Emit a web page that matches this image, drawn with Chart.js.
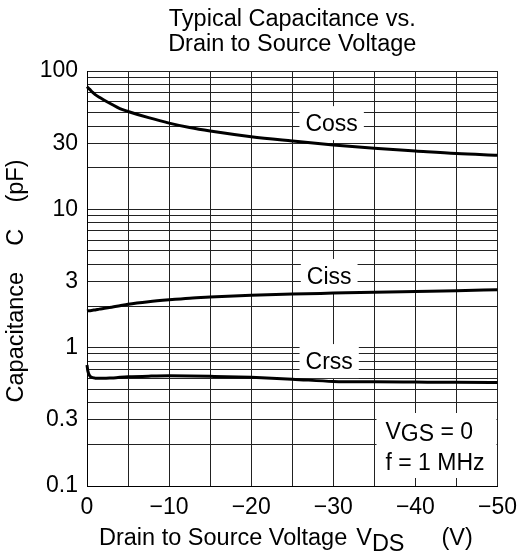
<!DOCTYPE html>
<html>
<head>
<meta charset="utf-8">
<title>Typical Capacitance vs. Drain to Source Voltage</title>
<script src="https://cdn.jsdelivr.net/npm/chart.js@4.4.1/dist/chart.umd.min.js"></script>
<style>
  html, body { margin: 0; padding: 0; background: #fff; }
  #wrap { width: 525px; height: 558px; }
</style>
</head>
<body>
<div id="wrap"><canvas id="grafico" width="525" height="558"></canvas></div>
<script>
// Drain to source voltage (V) - shared sampling for the three curves
var vds  = [0, -0.1, -0.3, -0.7, -1, -1.5, -2, -3, -4, -5, -7.5, -10, -12.5, -15, -20, -25, -30, -35, -40, -45, -50];
// Capacitances (pF)
var coss = [77, 76, 74, 70, 67.5, 64.5, 62, 57.5, 53.5, 51, 46, 42, 39, 36.8, 33.5, 31.2, 29.2, 27.6, 26.4, 25.3, 24.6];
var ciss = [1.84, 1.845, 1.85, 1.865, 1.875, 1.9, 1.92, 1.96, 2.01, 2.06, 2.15, 2.22, 2.28, 2.32, 2.39, 2.44, 2.48, 2.52, 2.55, 2.58, 2.62];
var crss = [0.75, 0.68, 0.63, 0.607, 0.602, 0.6, 0.6, 0.604, 0.61, 0.615, 0.622, 0.626, 0.625, 0.621, 0.61, 0.592, 0.57, 0.566, 0.564, 0.562, 0.561];

// Axis ticks
var xTicks  = [0, -5, -10, -15, -20, -25, -30, -35, -40, -45, -50];
var xLabels = [0, -10, -20, -30, -40, -50];
var yTicks  = [0.1, 0.2, 0.3, 0.4, 0.5, 0.6, 0.7, 0.8, 0.9,
               1, 2, 3, 4, 5, 6, 7, 8, 9,
               10, 20, 30, 40, 50, 60, 70, 80, 90, 100];
var yLabels = [0.1, 0.3, 1, 3, 10, 30, 100];

// Curve names, placed in data units
var curveNames = ['Coss', 'Ciss', 'Crss'];
var nameVds    = [-29.8, -29.5, -29.5];
var nameCap    = [42, 3.3, 0.8];

(function() {
    'use strict';

    var FUENTE = "'Liberation Sans', Arial, Helvetica, sans-serif";
    var TAM = 23;
    var TAM_TIT = 23.5;
    Chart.defaults.font.family = FUENTE;
    Chart.defaults.color = '#000';

    function serie(valores) {
        return vds.map(function(v, i) { return { x: v, y: valores[i] }; });
    }

    function dataset(nombre, valores) {
        return {
            label: nombre,
            data: serie(valores),
            borderColor: '#000',
            borderWidth: 3,
            pointRadius: 0,
            fill: false,
            clip: false,
            cubicInterpolationMode: 'monotone'
        };
    }

    // Boxes behind the curves, texts on top of everything
    var textos = {
        id: 'textos',
        beforeDatasetsDraw: function(chart) {
            var c = chart.ctx, xs = chart.scales.x, ys = chart.scales.y, a = chart.chartArea;
            c.save();
            c.font = TAM + 'px ' + FUENTE;
            c.textAlign = 'center';
            c.textBaseline = 'middle';
            curveNames.forEach(function(t, i) {
                var px = xs.getPixelForValue(nameVds[i]);
                var py = ys.getPixelForValue(nameCap[i]);
                var w = c.measureText(t).width + 12;
                c.fillStyle = '#fff';
                c.fillRect(px - w / 2, py - 17, w, 34);
                c.fillStyle = '#000';
                c.fillText(t, px, py + 2);
            });

            // Test conditions box
            var bw = 120, bh = 65;
            var bx = a.right - bw - 1, by = a.bottom - bh - 8;
            c.fillStyle = '#fff';
            c.fillRect(bx, by, bw, bh);
            c.fillStyle = '#000';
            c.textAlign = 'left';
            var tx = bx + 9;
            c.fillText('V', tx, by + 20);
            var wv = c.measureText('V').width;
            c.fillText('GS', tx + wv, by + 22);
            var wgs = c.measureText('GS').width;
            c.fillText(' = 0', tx + wv + wgs, by + 20);
            c.fillText('f = 1 MHz', tx, by + 51);
            c.restore();
        },
        afterDraw: function(chart) {
            var c = chart.ctx, a = chart.chartArea;
            var centro = (a.left + a.right) / 2;
            c.save();
            c.fillStyle = '#000';
            c.font = TAM_TIT + 'px ' + FUENTE;
            c.textBaseline = 'middle';

            // Title
            c.textAlign = 'center';
            c.fillText('Typical Capacitance vs.', centro, 20);
            c.fillText('Drain to Source Voltage', centro, 45);

            // X axis title with subscript
            var p1 = 'Drain to Source Voltage', p2 = 'V', p3 = 'DS', p4 = '(V)';
            var g1 = 9, g2 = 37;
            var w1 = c.measureText(p1).width, w2 = c.measureText(p2).width,
                w3 = c.measureText(p3).width, w4 = c.measureText(p4).width;
            var x0 = 99;
            var yb = 539;
            c.textAlign = 'left';
            c.fillText(p1, x0, yb);
            c.fillText(p2, x0 + w1 + g1, yb);
            c.fillText(p3, x0 + w1 + g1 + w2, yb + 6);
            c.fillText(p4, x0 + w1 + g1 + w2 + w3 + g2, yb);

            // Y axis title
            c.translate(17, 281);
            c.rotate(-Math.PI / 2);
            c.textAlign = 'center';
            c.fillText('Capacitance    C    (pF)', 0, 0);
            c.restore();
        }
    };

    var ctx = document.getElementById('grafico');
    new Chart(ctx, {
        type: 'line',
        data: {
            datasets: [
                dataset('Coss', coss),
                dataset('Ciss', ciss),
                dataset('Crss', crss)
            ]
        },
        options: {
            responsive: false,
            animation: false,
            events: [],
            layout: { padding: { left: 0, right: 23, top: 71, bottom: 0 } },
            plugins: {
                legend: { display: false },
                tooltip: { enabled: false },
                title: { display: false }
            },
            scales: {
                x: {
                    type: 'linear',
                    reverse: true,
                    min: -50,
                    max: 0,
                    afterBuildTicks: function(s) {
                        s.ticks = xTicks.map(function(v) { return { value: v }; });
                    },
                    afterFit: function(s) { s.height = 72; },
                    grid: { color: '#222', lineWidth: 1, drawTicks: false },
                    border: { color: '#000', width: 1 },
                    ticks: {
                        autoSkip: false,
                        maxRotation: 0,
                        padding: 8,
                        color: '#000',
                        font: { size: TAM },
                        callback: function(v) {
                            if (xLabels.indexOf(v) < 0) return '';
                            return v === 0 ? '0' : '\u2212' + Math.abs(v);
                        }
                    }
                },
                y: {
                    type: 'logarithmic',
                    min: 0.1,
                    max: 100,
                    afterBuildTicks: function(s) {
                        s.ticks = yTicks.map(function(v) { return { value: v }; });
                    },
                    afterFit: function(s) { s.width = 87; },
                    grid: { color: '#222', lineWidth: 1, drawTicks: false },
                    border: { color: '#000', width: 1 },
                    ticks: {
                        autoSkip: false,
                        padding: 9,
                        color: '#000',
                        font: { size: TAM },
                        callback: function(v) {
                            return yLabels.indexOf(v) >= 0 ? String(v) : '';
                        }
                    }
                }
            }
        },
        plugins: [textos]
    });
})();
</script>
</body>
</html>
